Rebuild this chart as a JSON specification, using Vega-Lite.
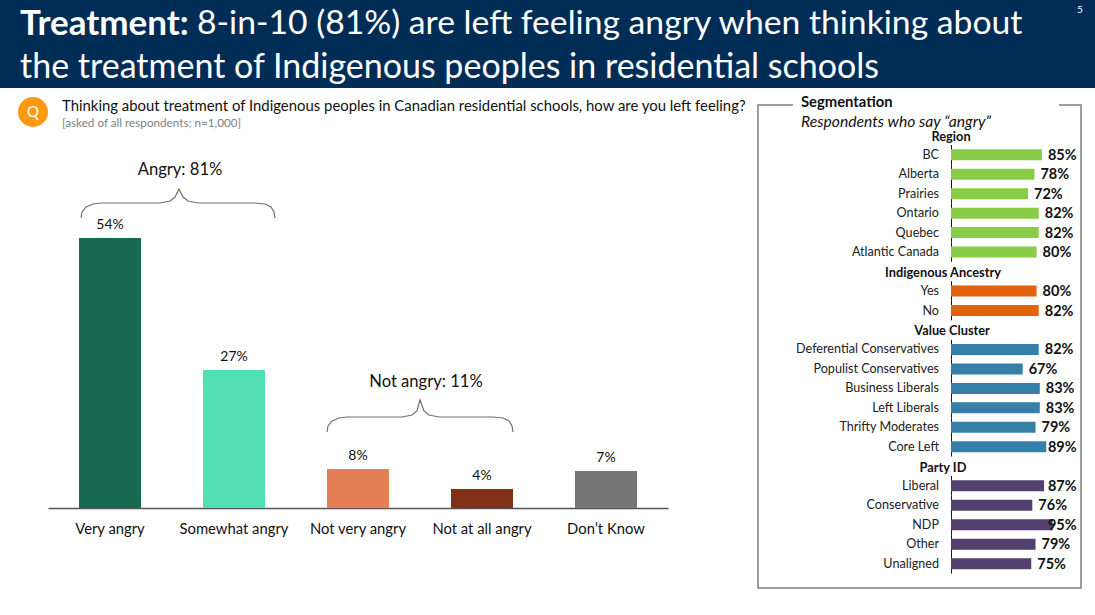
{
"$schema":"https://vega.github.io/schema/vega-lite/v6.json",
"padding":0,"background":"white","spacing":0,
"resolve":{"scale":{"color":"independent"}},
"config":{"view":{"stroke":null},"concat":{"spacing":0},"font":"Lato"},
"datasets":{
"main":[
{"category":"Very angry","value":54,"label":"54%"},
{"category":"Somewhat angry","value":27.6,"label":"27%"},
{"category":"Not very angry","value":7.8,"label":"8%"},
{"category":"Not at all angry","value":3.8,"label":"4%"},
{"category":"Don’t Know","value":7.4,"label":"7%"}],
"brackets":[
{"b":"Angry","o":1,"x":81,"y":58},{"b":"Angry","o":2,"x":82,"y":59.2},{"b":"Angry","o":3,"x":86,"y":60.2},{"b":"Angry","o":4,"x":93,"y":60.8},{"b":"Angry","o":5,"x":101,"y":61},{"b":"Angry","o":6,"x":160,"y":61},{"b":"Angry","o":7,"x":170,"y":61.4},{"b":"Angry","o":8,"x":175,"y":62.2},{"b":"Angry","o":9,"x":179,"y":63.8},{"b":"Angry","o":10,"x":183,"y":62.2},{"b":"Angry","o":11,"x":188,"y":61.4},{"b":"Angry","o":12,"x":198,"y":61},{"b":"Angry","o":13,"x":255,"y":61},{"b":"Angry","o":14,"x":265,"y":60.8},{"b":"Angry","o":15,"x":271,"y":60.2},{"b":"Angry","o":16,"x":274,"y":59.2},{"b":"Angry","o":17,"x":275,"y":58},
{"b":"Not","o":1,"x":327,"y":15.2},{"b":"Not","o":2,"x":328,"y":16.4},{"b":"Not","o":3,"x":332,"y":17.4},{"b":"Not","o":4,"x":339,"y":18},{"b":"Not","o":5,"x":347,"y":18.2},{"b":"Not","o":6,"x":402,"y":18.2},{"b":"Not","o":7,"x":412,"y":18.6},{"b":"Not","o":8,"x":417,"y":19.4},{"b":"Not","o":9,"x":420,"y":21.6},{"b":"Not","o":10,"x":424,"y":19.4},{"b":"Not","o":11,"x":429,"y":18.6},{"b":"Not","o":12,"x":439,"y":18.2},{"b":"Not","o":13,"x":493,"y":18.2},{"b":"Not","o":14,"x":503,"y":18},{"b":"Not","o":15,"x":509,"y":17.4},{"b":"Not","o":16,"x":512,"y":16.4},{"b":"Not","o":17,"x":513,"y":15.2}],
"rows":[
{"row":"BC","group":"Region","value":85,"label":"85%"},
{"row":"Alberta","group":"Region","value":78,"label":"78%"},
{"row":"Prairies","group":"Region","value":72,"label":"72%"},
{"row":"Ontario","group":"Region","value":82,"label":"82%"},
{"row":"Quebec","group":"Region","value":82,"label":"82%"},
{"row":"Atlantic Canada","group":"Region","value":80,"label":"80%"},
{"row":"Yes","group":"Indigenous Ancestry","value":80,"label":"80%"},
{"row":"No","group":"Indigenous Ancestry","value":82,"label":"82%"},
{"row":"Deferential Conservatives","group":"Value Cluster","value":82,"label":"82%"},
{"row":"Populist Conservatives","group":"Value Cluster","value":67,"label":"67%"},
{"row":"Business Liberals","group":"Value Cluster","value":83,"label":"83%"},
{"row":"Left Liberals","group":"Value Cluster","value":83,"label":"83%"},
{"row":"Thrifty Moderates","group":"Value Cluster","value":79,"label":"79%"},
{"row":"Core Left","group":"Value Cluster","value":89,"label":"89%"},
{"row":"Liberal","group":"Party ID","value":87,"label":"87%"},
{"row":"Conservative","group":"Party ID","value":76,"label":"76%"},
{"row":"NDP","group":"Party ID","value":95,"label":"95%"},
{"row":"Other","group":"Party ID","value":79,"label":"79%"},
{"row":"Unaligned","group":"Party ID","value":75,"label":"75%"}],
"heads":[{"row":"Region","x":0},{"row":"Indigenous Ancestry","x":-7.5},{"row":"Value Cluster","x":1},{"row":"Party ID","x":-7.5}],
"frame":[{"o":1,"x":-147.7,"y":-2.515},{"o":2,"x":-180.4,"y":-2.515},{"o":3,"x":-180.4,"y":22.28},{"o":4,"x":121.5,"y":22.28},{"o":5,"x":121.5,"y":-2.515},{"o":6,"x":100.9,"y":-2.515}]
},
"vconcat":[
{"width":1095,"height":88,"view":{"fill":"#002D56","stroke":null},
"layer":[
{"data":{"values":[{"t":"Treatment:","x":20,"line":"a"}]},
"mark":{"type":"text","align":"left","fontSize":35,"fontWeight":"bold","dy":2,"color":"white"},
"encoding":{"x":{"field":"x","type":"quantitative","scale":{"domain":[0,1095],"nice":false},"axis":null},"y":{"field":"line","type":"nominal","scale":{"domain":["a","b"],"paddingInner":0,"paddingOuter":0},"axis":null},"text":{"field":"t"}}},
{"data":{"values":[{"t":"8-in-10 (81%) are left feeling angry when thinking about","x":197,"line":"a"}]},
"mark":{"type":"text","align":"left","fontSize":33.7,"dy":2,"color":"white"},
"encoding":{"x":{"field":"x","type":"quantitative","scale":{"domain":[0,1095],"nice":false},"axis":null},"y":{"field":"line","type":"nominal","scale":{"domain":["a","b"],"paddingInner":0,"paddingOuter":0},"axis":null},"text":{"field":"t"}}},
{"data":{"values":[{"t":"the treatment of Indigenous peoples in residential schools","x":20,"line":"b"}]},
"mark":{"type":"text","align":"left","fontSize":34,"dy":2,"color":"white"},
"encoding":{"x":{"field":"x","type":"quantitative","scale":{"domain":[0,1095],"nice":false},"axis":null},"y":{"field":"line","type":"nominal","scale":{"domain":["a","b"],"paddingInner":0,"paddingOuter":0},"axis":null},"text":{"field":"t"}}},
{"data":{"values":[{"t":"5","x":1080,"line":"a"}]},
"mark":{"type":"text","align":"center","fontSize":10,"dy":-12,"color":"white"},
"encoding":{"x":{"field":"x","type":"quantitative","scale":{"domain":[0,1095],"nice":false},"axis":null},"y":{"field":"line","type":"nominal","scale":{"domain":["a","b"],"paddingInner":0,"paddingOuter":0},"axis":null},"text":{"field":"t"}}}
]},
{"resolve":{"scale":{"color":"independent"}},"hconcat":[
{"width":755,"height":420,
"resolve":{"scale":{"x":"independent"}},
"encoding":{"y":{"field":"value","type":"quantitative","scale":{"domain":[0,84],"nice":false},"axis":null}},
"layer":[
{"data":{"name":"main"},"mark":{"type":"bar"},
"encoding":{
"x":{"field":"category","type":"nominal","sort":null,"scale":{"domain":["Very angry","Somewhat angry","Not very angry","Not at all angry","Don’t Know"],"range":[48,668],"paddingInner":0.5,"paddingOuter":0.25},
"axis":{"title":null,"labelAngle":0,"labelFontSize":14.8,"labelColor":"#111111","labelPadding":13,"ticks":false,"domainColor":"#555555","domainWidth":1.5,"labelFont":"Lato"}},
"color":{"field":"category","type":"nominal","legend":null,"scale":{"domain":["Very angry","Somewhat angry","Not very angry","Not at all angry","Don’t Know"],"range":["#176A50","#52DFB3","#E67F56","#7F3015","#767676"]}}}},
{"data":{"name":"main"},"mark":{"type":"text","dy":-13,"fontSize":14,"color":"#111111"},
"encoding":{
"x":{"field":"category","type":"nominal","sort":null,"scale":{"domain":["Very angry","Somewhat angry","Not very angry","Not at all angry","Don’t Know"],"range":[48,668],"paddingInner":0.5,"paddingOuter":0.25},"axis":null},
"text":{"field":"label"}}},
{"data":{"name":"brackets"},"mark":{"type":"line","color":"#6F6F6F","strokeWidth":1.2},
"encoding":{
"x":{"field":"x","type":"quantitative","scale":{"domain":[0,755],"nice":false},"axis":null},
"y":{"field":"y","type":"quantitative","scale":{"domain":[0,84],"nice":false},"axis":null},
"detail":{"field":"b"},"order":{"field":"o"}}},
{"data":{"values":[{"t":"Angry: 81%","x":180,"y":67.6},{"t":"Not angry: 11%","x":426,"y":25.2}]},"mark":{"type":"text","fontSize":16.6,"color":"#111111"},
"encoding":{
"x":{"field":"x","type":"quantitative","scale":{"domain":[0,755],"nice":false},"axis":null},
"y":{"field":"y","type":"quantitative","scale":{"domain":[0,84],"nice":false},"axis":null},
"text":{"field":"t"}}},
{"data":{"values":[{"x":33,"y":79.2}]},"mark":{"type":"point","filled":true,"opacity":1,"size":900,"color":"#FF9912"},
"encoding":{
"x":{"field":"x","type":"quantitative","scale":{"domain":[0,755],"nice":false},"axis":null},
"y":{"field":"y","type":"quantitative","scale":{"domain":[0,84],"nice":false},"axis":null}}},
{"data":{"values":[{"t":"Q","x":33,"y":79.2}]},"mark":{"type":"text","fontSize":15,"color":"white"},
"encoding":{
"x":{"field":"x","type":"quantitative","scale":{"domain":[0,755],"nice":false},"axis":null},
"y":{"field":"y","type":"quantitative","scale":{"domain":[0,84],"nice":false},"axis":null},
"text":{"field":"t"}}},
{"data":{"values":[{"t":"Thinking about treatment of Indigenous peoples in Canadian residential schools, how are you left feeling?","x":62,"y":80.2}]},"mark":{"type":"text","align":"left","fontSize":14.9,"color":"#111111"},
"encoding":{
"x":{"field":"x","type":"quantitative","scale":{"domain":[0,755],"nice":false},"axis":null},
"y":{"field":"y","type":"quantitative","scale":{"domain":[0,84],"nice":false},"axis":null},
"text":{"field":"t"}}},
{"data":{"values":[{"t":"[asked of all respondents; n=1,000]","x":62,"y":77}]},"mark":{"type":"text","align":"left","fontSize":11.7,"color":"#808080"},
"encoding":{
"x":{"field":"x","type":"quantitative","scale":{"domain":[0,755],"nice":false},"axis":null},
"y":{"field":"y","type":"quantitative","scale":{"domain":[0,84],"nice":false},"axis":null},
"text":{"field":"t"}}}
]},
{"width":337,"height":527,
"resolve":{"scale":{"y":"independent"}},
"layer":[
{"data":{"name":"frame"},"mark":{"type":"line","color":"#7F7F7F","strokeWidth":1.5},
"encoding":{
"x":{"field":"x","type":"quantitative","scale":{"domain":[-180.4,134.6],"nice":false,"zero":false},"axis":null},
"y":{"field":"y","type":"quantitative","scale":{"domain":[-3.388,23.665],"reverse":true,"nice":false,"zero":false},"axis":null},
"order":{"field":"o"}}},
{"data":{"values":[{"t":"Segmentation","x":-140.2,"y":-2.62}]},"mark":{"type":"text","align":"left","fontSize":14.8,"fontWeight":"bold","color":"#111111"},
"encoding":{
"x":{"field":"x","type":"quantitative","scale":{"domain":[-180.4,134.6],"nice":false,"zero":false},"axis":null},
"y":{"field":"y","type":"quantitative","scale":{"domain":[-3.388,23.665],"reverse":true,"nice":false,"zero":false},"axis":null},
"text":{"field":"t"}}},
{"data":{"values":[{"t":"Respondents who say “angry”","x":-140.2,"y":-1.66}]},"mark":{"type":"text","align":"left","fontSize":15.7,"fontStyle":"italic","color":"#111111"},
"encoding":{
"x":{"field":"x","type":"quantitative","scale":{"domain":[-180.4,134.6],"nice":false,"zero":false},"axis":null},
"y":{"field":"y","type":"quantitative","scale":{"domain":[-3.388,23.665],"reverse":true,"nice":false,"zero":false},"axis":null},
"text":{"field":"t"}}},
{"data":{"name":"rows"},"mark":{"type":"bar","size":19.5,"color":"#111111"},
"encoding":{
"x":{"datum":0,"type":"quantitative","scale":{"domain":[-180.4,134.6],"nice":false,"zero":false},"axis":null},
"x2":{"datum":0.9},
"y":{"field":"row","type":"nominal","scale":{"domain":["Region","BC","Alberta","Prairies","Ontario","Quebec","Atlantic Canada","Indigenous Ancestry","Yes","No","Value Cluster","Deferential Conservatives","Populist Conservatives","Business Liberals","Left Liberals","Thrifty Moderates","Core Left","Party ID","Liberal","Conservative","NDP","Other","Unaligned"],"range":[37.5,485.4],"paddingInner":0,"paddingOuter":0},"axis":null}}},
{"data":{"name":"rows"},"mark":{"type":"bar","size":11},
"encoding":{
"x":{"field":"value","type":"quantitative","stack":null,"scale":{"domain":[-180.4,134.6],"nice":false,"zero":false},"axis":null},
"x2":{"datum":0},
"y":{"field":"row","type":"nominal","scale":{"domain":["Region","BC","Alberta","Prairies","Ontario","Quebec","Atlantic Canada","Indigenous Ancestry","Yes","No","Value Cluster","Deferential Conservatives","Populist Conservatives","Business Liberals","Left Liberals","Thrifty Moderates","Core Left","Party ID","Liberal","Conservative","NDP","Other","Unaligned"],"range":[37.5,485.4],"paddingInner":0,"paddingOuter":0},"axis":null},
"color":{"field":"group","type":"nominal","legend":null,"scale":{"domain":["Region","Indigenous Ancestry","Value Cluster","Party ID"],"range":["#88CC47","#E2620F","#357FA8","#54406F"]}}}},
{"data":{"name":"rows"},"mark":{"type":"text","align":"right","dx":-12,"fontSize":12.6,"color":"#222222"},
"encoding":{
"x":{"datum":0,"type":"quantitative","scale":{"domain":[-180.4,134.6],"nice":false,"zero":false},"axis":null},
"y":{"field":"row","type":"nominal","scale":{"domain":["Region","BC","Alberta","Prairies","Ontario","Quebec","Atlantic Canada","Indigenous Ancestry","Yes","No","Value Cluster","Deferential Conservatives","Populist Conservatives","Business Liberals","Left Liberals","Thrifty Moderates","Core Left","Party ID","Liberal","Conservative","NDP","Other","Unaligned"],"range":[37.5,485.4],"paddingInner":0,"paddingOuter":0},"axis":null},
"text":{"field":"row"}}},
{"data":{"name":"rows"},"transform":[{"calculate":"min(datum.value,85)","as":"labelx"}],
"mark":{"type":"text","align":"left","dx":6,"dy":1,"fontSize":14.5,"fontWeight":"bold","color":"#111111"},
"encoding":{
"x":{"field":"labelx","type":"quantitative","scale":{"domain":[-180.4,134.6],"nice":false,"zero":false},"axis":null},
"y":{"field":"row","type":"nominal","scale":{"domain":["Region","BC","Alberta","Prairies","Ontario","Quebec","Atlantic Canada","Indigenous Ancestry","Yes","No","Value Cluster","Deferential Conservatives","Populist Conservatives","Business Liberals","Left Liberals","Thrifty Moderates","Core Left","Party ID","Liberal","Conservative","NDP","Other","Unaligned"],"range":[37.5,485.4],"paddingInner":0,"paddingOuter":0},"axis":null},
"text":{"field":"label"}}},
{"data":{"name":"heads"},"mark":{"type":"text","dy":1.5,"fontSize":12.8,"fontWeight":"bold","color":"#111111"},
"encoding":{
"x":{"field":"x","type":"quantitative","scale":{"domain":[-180.4,134.6],"nice":false,"zero":false},"axis":null},
"y":{"field":"row","type":"nominal","scale":{"domain":["Region","BC","Alberta","Prairies","Ontario","Quebec","Atlantic Canada","Indigenous Ancestry","Yes","No","Value Cluster","Deferential Conservatives","Populist Conservatives","Business Liberals","Left Liberals","Thrifty Moderates","Core Left","Party ID","Liberal","Conservative","NDP","Other","Unaligned"],"range":[37.5,485.4],"paddingInner":0,"paddingOuter":0},"axis":null},
"text":{"field":"row"}}}
]}
],"spacing":0}
]}
